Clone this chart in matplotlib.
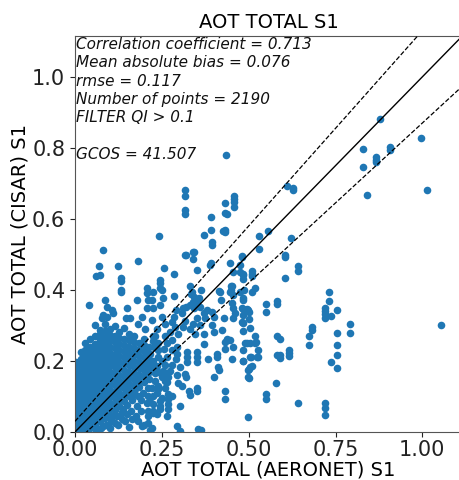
import matplotlib
matplotlib.use("Agg")
import matplotlib.pyplot as plt

title = "AOT TOTAL S1"
xlabel = "AOT TOTAL (AERONET) S1"
ylabel = "AOT TOTAL (CISAR) S1"
stats_lines = ["Correlation coefficient = 0.713", "Mean absolute bias = 0.076",
               "rmse = 0.117", "Number of points = 2190", "FILTER QI > 0.1", "",
               "GCOS = 41.507"]
axis_max = 1.115
gcos_slope_hi, gcos_slope_lo, gcos_offset = 1.1, 0.9, 0.03

# dense cluster near the origin: (AERONET, [CISAR values])
blob_cols = [
    (0.003, [0.004, 0.022, 0.039, 0.057, 0.074, 0.092, 0.109, 0.127, 0.144, 0.162, 0.18, 0.197]),
    (0.016, [0.012, 0.03, 0.047, 0.065, 0.083, 0.1, 0.118, 0.135, 0.153, 0.17, 0.188, 0.206, 0.226]),
    (0.03, [0.004, 0.021, 0.039, 0.056, 0.074, 0.091, 0.109, 0.126, 0.144, 0.161, 0.179, 0.196, 0.214, 0.232, 0.25]),
    (0.044, [0.012, 0.03, 0.047, 0.065, 0.082, 0.1, 0.117, 0.135, 0.152, 0.17, 0.187, 0.205, 0.222, 0.24, 0.262]),
    (0.058, [0.021, 0.039, 0.056, 0.074, 0.091, 0.109, 0.126, 0.144, 0.161, 0.179, 0.196, 0.214, 0.231, 0.249, 0.27, 0.3]),
    (0.072, [0.03, 0.048, 0.065, 0.083, 0.1, 0.118, 0.135, 0.153, 0.17, 0.188, 0.205, 0.223, 0.24, 0.258, 0.276, 0.288]),
    (0.086, [0.039, 0.056, 0.074, 0.091, 0.109, 0.126, 0.144, 0.161, 0.179, 0.196, 0.214, 0.231, 0.249, 0.266, 0.284, 0.305]),
    (0.1, [0.048, 0.065, 0.083, 0.1, 0.118, 0.135, 0.153, 0.17, 0.188, 0.205, 0.223, 0.24, 0.258, 0.274, 0.29]),
    (0.114, [0.061, 0.078, 0.096, 0.113, 0.131, 0.148, 0.166, 0.183, 0.201, 0.218, 0.236, 0.253, 0.27, 0.298]),
    (0.128, [0.074, 0.091, 0.109, 0.126, 0.144, 0.161, 0.179, 0.196, 0.214, 0.231, 0.249, 0.266, 0.282]),
    (0.142, [0.088, 0.105, 0.123, 0.14, 0.158, 0.175, 0.193, 0.21, 0.228, 0.245, 0.263, 0.292]),
    (0.156, [0.1, 0.118, 0.135, 0.153, 0.17, 0.188, 0.205, 0.223, 0.24, 0.258, 0.275]),
    (0.17, [0.114, 0.131, 0.149, 0.166, 0.184, 0.201, 0.219, 0.236, 0.254, 0.27]),
    (0.184, [0.126, 0.144, 0.161, 0.179, 0.196, 0.214, 0.231, 0.25]),
    (0.198, [0.14, 0.157, 0.175, 0.192, 0.21, 0.227, 0.245, 0.262]),
    (0.212, [0.15, 0.168, 0.185, 0.203, 0.22, 0.24]),
]

# sparser points around the cluster
fringe_cols = [
    (0.06, [0.005]), (0.075, [0.012]), (0.09, [0.02]), (0.105, [0.03]), (0.12, [0.045, 0.083]),
    (0.135, [0.055, 0.038]), (0.125, [0.02]), (0.15, [0.075]), (0.165, [0.09]), (0.18, [0.1]),
    (0.195, [0.11]), (0.21, [0.125, 0.1, 0.06, 0.045]), (0.145, [0.03]), (0.16, [0.058]),
    (0.23, [0.27, 0.165]), (0.24, [0.25, 0.23, 0.21, 0.17, 0.12]), (0.255, [0.235]), (0.228, [0.24]),
    (0.26, [0.27, 0.19, 0.125]), (0.238, [0.13]), (0.25, [0.095, 0.2]),
    (0.225, [0.27, 0.255, 0.18, 0.1, 0.08]), (0.265, [0.25, 0.21, 0.14]), (0.28, [0.26, 0.23, 0.19, 0.1]),
    (0.295, [0.24, 0.22, 0.16]), (0.19, [0.09, 0.06]), (0.175, [0.045]), (0.2, [0.02]),
    (0.155, [0.015]), (0.11, [0.045]),
    (0.139, [0.064]), (0.163, [0.036, 0.102]), (0.130, [0.102]), (0.173, [0.121]),
    (0.293, [0.016]), (0.355, [0.009]), (0.115, [0.026]), (0.101, [0.012]), (0.226, [0.059]),
    (0.070, [0.466]), (0.072, [0.443]), (0.061, [0.438]), (0.041, [0.357]), (0.086, [0.372]),
    (0.091, [0.353, 0.324]), (0.082, [0.329, 0.016, 0.512]), (0.077, [0.320]), (0.106, [0.343]),
    (0.110, [0.334]), (0.125, [0.466]), (0.132, [0.433, 0.424, 0.400, 0.395]), (0.181, [0.481]),
    (0.149, [0.348, 0.116, 0.050]), (0.146, [0.320]), (0.159, [0.320]), (0.178, [0.372, 0.073]),
    (0.207, [0.405, 0.348, 0.083]), (0.208, [0.391]), (0.211, [0.372, 0.026]),
    (0.182, [0.305, 0.031]), (0.202, [0.291]), (0.192, [0.324, 0.016]),
]

# middle region (0.2 - 0.55)
mid_cols = [
    (0.320, [0.498, 0.353, 0.156]), (0.341, [0.507, 0.488, 0.305]), (0.256, [0.462]),
    (0.285, [0.445, 0.384, 0.324]), (0.391, [0.476, 0.606, 0.568]), (0.447, [0.476, 0.395]),
    (0.456, [0.450, 0.386, 0.348, 0.320, 0.239]), (0.476, [0.450, 0.395, 0.471]),
    (0.509, [0.445, 0.438, 0.395, 0.187, 0.452]), (0.418, [0.395]), (0.449, [0.410, 0.400]),
    (0.352, [0.457]), (0.480, [0.493, 0.348, 0.310, 0.495]),
    (0.245, [0.428, 0.420, 0.357, 0.405, 0.087, 0.073, 0.064]), (0.250, [0.400, 0.324, 0.154]),
    (0.331, [0.410, 0.357, 0.291]), (0.336, [0.395]), (0.362, [0.400, 0.007]),
    (0.416, [0.397, 0.175]), (0.452, [0.410, 0.362, 0.206]), (0.487, [0.400]),
    (0.226, [0.395, 0.348, 0.201, 0.054]), (0.254, [0.376, 0.173]), (0.221, [0.372, 0.315, 0.125, 0.012]),
    (0.333, [0.388]), (0.343, [0.381, 0.348, 0.506]), (0.358, [0.376]), (0.339, [0.367]),
    (0.351, [0.362, 0.320, 0.225, 0.211, 0.197, 0.125, 0.116]), (0.360, [0.353, 0.301]),
    (0.312, [0.348, 0.296]), (0.307, [0.334, 0.130]), (0.291, [0.343, 0.206]),
    (0.370, [0.334, 0.277, 0.249, 0.555]), (0.380, [0.343]), (0.394, [0.339, 0.301, 0.536, 0.526]),
    (0.399, [0.324, 0.282, 0.154]), (0.375, [0.320]), (0.317, [0.312, 0.163, 0.499]),
    (0.421, [0.372]), (0.429, [0.320]), (0.461, [0.334]), (0.485, [0.329, 0.201]), (0.497, [0.343, 0.042]),
    (0.259, [0.305, 0.144]), (0.235, [0.291, 0.187, 0.111, 0.050]), (0.279, [0.310]), (0.288, [0.296]),
    (0.298, [0.277, 0.137]), (0.274, [0.282, 0.173]), (0.423, [0.286]), (0.346, [0.277]),
    (0.437, [0.263, 0.613]), (0.447, [0.258]), (0.432, [0.253, 0.234, 0.116, 0.092]), (0.522, [0.253]),
    (0.322, [0.225, 0.211, 0.197]), (0.408, [0.220, 0.211]), (0.413, [0.182]), (0.384, [0.206]),
    (0.524, [0.211]), (0.303, [0.182]), (0.327, [0.116]), (0.331, [0.105]),
    (0.269, [0.107, 0.092, 0.078, 0.064, 0.154]), (0.301, [0.073, 0.002]),
    (0.216, [0.220, 0.097, 0.007]), (0.264, [0.159, 0.045]), (0.231, [0.144]),
    (0.483, [0.376, 0.346, 0.307, 0.285, 0.232, 0.199, 0.445, 0.430, 0.443, 0.372]),
    (0.495, [0.346, 0.251]), (0.501, [0.337, 0.318, 0.178, 0.152]), (0.504, [0.293, 0.251, 0.211, 0.182]),
    (0.489, [0.251]), (0.519, [0.269, 0.251, 0.405]), (0.527, [0.232, 0.211]), (0.506, [0.211]),
    (0.499, [0.175, 0.154]), (0.427, [0.566]), (0.389, [0.471]),
]

# upper / right region
outer_cols = [
    (0.879, [0.881]), (0.829, [0.798, 0.746]), (0.841, [0.668]), (0.866, [0.774, 0.766, 0.760]),
    (0.907, [0.803, 0.795]), (0.997, [0.828]), (1.013, [0.681]), (1.055, [0.300]),
    (0.611, [0.692]), (0.627, [0.687, 0.681]), (0.531, [0.552, 0.514]), (0.555, [0.565]),
    (0.623, [0.547]), (0.435, [0.781]), (0.318, [0.682, 0.665, 0.624, 0.613]),
    (0.458, [0.665, 0.655, 0.648, 0.634]), (0.431, [0.644, 0.616, 0.570, 0.564]),
    (0.241, [0.552]), (0.792, [0.303, 0.279]), (0.730, [0.393, 0.370]),
    (0.720, [0.350, 0.341, 0.331, 0.322, 0.083, 0.068, 0.049]), (0.737, [0.327, 0.198]),
    (0.753, [0.344, 0.279, 0.245, 0.216, 0.181]), (0.682, [0.295, 0.286]), (0.675, [0.269, 0.246]),
    (0.642, [0.468, 0.452, 0.083]), (0.615, [0.232, 0.223, 0.214]), (0.589, [0.217, 0.208, 0.263]),
    (0.581, [0.217, 0.271, 0.369, 0.360]), (0.550, [0.359, 0.339, 0.108, 0.092]), (0.579, [0.138]),
    (0.604, [0.499, 0.494, 0.435]),
]

aeronet, cisar = [], []
for group in (blob_cols, fringe_cols, mid_cols, outer_cols):
    for xv, yvals in group:
        for yv in yvals:
            aeronet.append(xv)
            cisar.append(yv)

fig = plt.figure(figsize=(4.6, 4.8), dpi=100)
ax = fig.add_axes([0.163, 0.1, 0.842, 0.825])
ax.scatter(aeronet, cisar, s=30, color="#1f77b4", linewidths=0, zorder=2)

lx = [0, axis_max]
ax.plot(lx, lx, color="black", lw=1, zorder=3)
ax.plot(lx, [gcos_slope_hi * v + gcos_offset for v in lx], color="black", lw=0.9, ls="--", zorder=3)
ax.plot(lx, [gcos_slope_lo * v - gcos_offset for v in lx], color="black", lw=0.9, ls="--", zorder=3)

ax.set_xlim(0, axis_max)
ax.set_ylim(0, axis_max)
ax.set_xticks([0, 0.25, 0.5, 0.75, 1.0])
ax.set_xticklabels(["0.00", "0.25", "0.50", "0.75", "1.00"])
ax.set_yticks([0, 0.2, 0.4, 0.6, 0.8, 1.0])
ax.set_yticklabels(["0.0", "0.2", "0.4", "0.6", "0.8", "1.0"])
ax.tick_params(labelsize=15, colors="#222222")
ax.tick_params(axis="x", pad=2)
for sp in ax.spines.values():
    sp.set_color("#555555")

ax.set_title(title, fontsize=14, pad=6)
ax.set_xlabel(xlabel, fontsize=14)
ax.xaxis.set_label_coords(0.5, -0.071)
ax.set_ylabel(ylabel, fontsize=14, labelpad=2)

ax.text(0.003, 0.997, "\n".join(stats_lines), transform=ax.transAxes, ha="left", va="top",
        fontsize=11, fontstyle="italic", color="#111111", linespacing=1.27, zorder=4)

fig.savefig("out.png", dpi=100)
